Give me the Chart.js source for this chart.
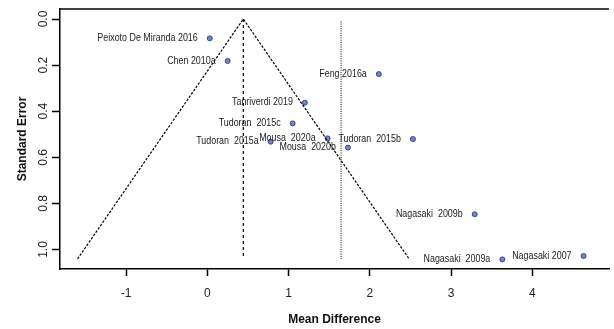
<!DOCTYPE html>
<html>
<head>
<meta charset="utf-8">
<script src="https://cdn.jsdelivr.net/npm/chart.js@4.4.1/dist/chart.umd.min.js"></script>
<style>
  html, body { margin: 0; padding: 0; background: #fff; }
  #wrap { width: 614px; height: 329px; }
</style>
</head>
<body>
<div id="wrap"><canvas id="funnel"></canvas></div>
<script>
// Dados do gráfico (funnel plot)
const studies = ['Peixoto De Miranda 2016', 'Chen 2010a', 'Feng 2016a', 'Tanriverdi 2019', 'Tudoran  2015c',
    'Tudoran  2015a', 'Mousa  2020a', 'Tudoran  2015b', 'Mousa  2020b', 'Nagasaki  2009b',
    'Nagasaki  2009a', 'Nagasaki 2007'];
const meanDiff = [0.03, 0.25, 2.11, 1.20, 1.05, 0.78, 1.48, 2.53, 1.73, 3.29, 3.63, 4.63];
const stdErr = [0.084, 0.182, 0.239, 0.363, 0.453, 0.532, 0.518, 0.521, 0.558, 0.847, 1.043, 1.028];

const pooledEst = 0.443;   // linha tracejada central
const otherEst = 1.646;    // linha pontilhada
const seMax = 1.041;

const xTicks = [-1, 0, 1, 2, 3, 4];
const yTicks = [0, 0.2, 0.4, 0.6, 0.8, 1.0];

const points = meanDiff.map((v, i) => ({ x: v, y: stdErr[i] }));
const funnel = [
    { x: pooledEst - 1.96 * seMax, y: seMax },
    { x: pooledEst, y: 0 },
    { x: pooledEst + 1.96 * seMax, y: seMax }
];

// Plugin para rótulos, títulos e borda superior
const extras = {
    id: 'extras',
    afterDatasetsDraw(chart) {
        const ctx = chart.ctx;
        const area = chart.chartArea;
        const meta = chart.getDatasetMeta(3);
        ctx.save();
        ctx.font = '10px "Liberation Sans", Arial, sans-serif';
        ctx.fillStyle = '#222';
        ctx.textAlign = 'right';
        ctx.textBaseline = 'middle';
        meta.data.forEach((pt, i) => {
            // texto um pouco condensado, como no original
            ctx.save();
            ctx.translate(pt.x - 12, pt.y);
            ctx.scale(0.89, 1);
            ctx.fillText(studies[i], 0, 0);
            ctx.restore();
        });
        // borda superior
        ctx.strokeStyle = '#000';
        ctx.lineWidth = 1.5;
        ctx.beginPath();
        ctx.moveTo(area.left, area.top);
        ctx.lineTo(area.right, area.top);
        ctx.stroke();
        // títulos dos eixos
        ctx.font = 'bold 12px "Liberation Sans", Arial, sans-serif';
        ctx.fillStyle = '#111';
        ctx.textAlign = 'center';
        ctx.fillText('Mean Difference', (area.left + area.right) / 2, 320);
        ctx.translate(23, (area.top + area.bottom) / 2);
        ctx.rotate(-Math.PI / 2);
        ctx.fillText('Standard Error', 0, 0);
        ctx.restore();
    }
};

const ctx = document.getElementById('funnel').getContext('2d');
const myChart = new Chart(ctx, {
    type: 'scatter',
    data: {
        datasets: [
            {
                data: funnel, showLine: true, pointRadius: 0,
                borderColor: '#000', borderWidth: 1.2, borderDash: [2.5, 1.5], fill: false
            },
            {
                data: [{ x: pooledEst, y: 0 }, { x: pooledEst, y: 1.028 }], showLine: true, pointRadius: 0,
                borderColor: '#000', borderWidth: 1.2, borderDash: [3, 3]
            },
            {
                data: [{ x: otherEst, y: 0.01 }, { x: otherEst, y: seMax }], showLine: true, pointRadius: 0,
                borderColor: '#000', borderWidth: 1, borderDash: [1, 1.3]
            },
            {
                data: points, pointRadius: 2.5,
                backgroundColor: '#7185c9', borderColor: '#34468c', borderWidth: 1
            }
        ]
    },
    options: {
        responsive: true,
        maintainAspectRatio: false,
        animation: false,
        layout: { padding: { top: 9, right: 0, left: 0, bottom: 0 } },
        plugins: {
            legend: { display: false },
            tooltip: { enabled: false }
        },
        scales: {
            x: {
                type: 'linear',
                min: -1.813,
                max: 4.943,
                afterBuildTicks: (scale) => { scale.ticks = xTicks.map(v => ({ value: v })); },
                afterFit: (scale) => { scale.height = 60; },
                grid: { drawOnChartArea: false, tickLength: 7, tickColor: '#000', tickWidth: 1.5 },
                border: { display: true, color: '#000', width: 1.5 },
                ticks: {
                    autoSkip: false, padding: 10, color: '#222',
                    font: { size: 12, family: '"Liberation Sans", Arial, sans-serif' },
                    callback: (v) => String(v)
                }
            },
            y: {
                type: 'linear',
                reverse: true,
                min: -0.0434,
                max: 1.0846,
                afterBuildTicks: (scale) => { scale.ticks = yTicks.map(v => ({ value: v })); },
                afterFit: (scale) => { scale.width = 60; },
                grid: { drawOnChartArea: false, tickLength: 8, tickColor: '#000', tickWidth: 1.5 },
                border: { display: true, color: '#000', width: 1.5 },
                ticks: {
                    autoSkip: false, padding: 0, color: '#222',
                    minRotation: 90, maxRotation: 90, crossAlign: 'center',
                    font: { size: 12, family: '"Liberation Sans", Arial, sans-serif' },
                    callback: (v) => Number(v).toFixed(1)
                }
            }
        }
    },
    plugins: [extras]
});
</script>
</body>
</html>
